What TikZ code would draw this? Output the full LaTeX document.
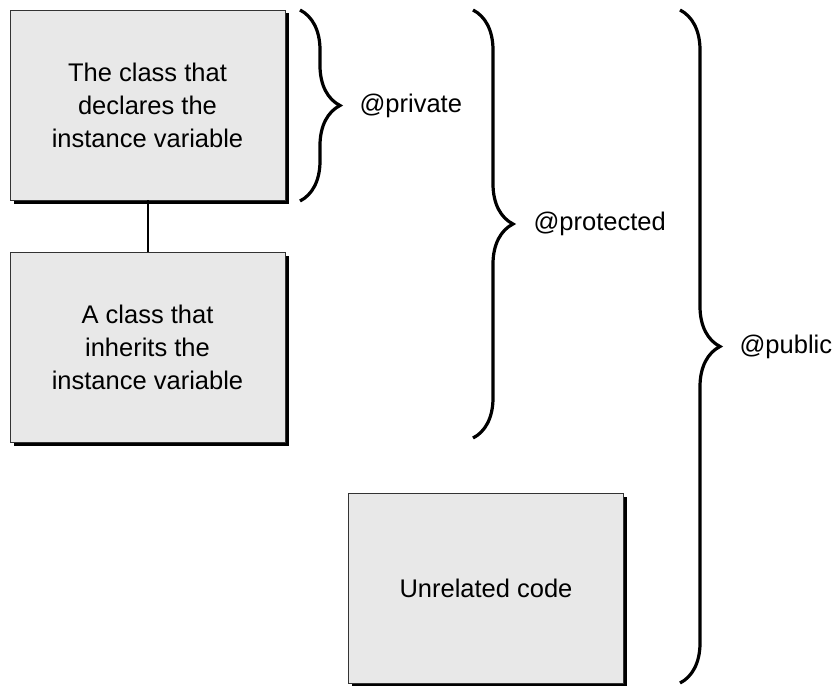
\documentclass[tikz,border=0pt]{standalone}
\usepackage{fontspec}
\setmainfont{Liberation Sans}
\usetikzlibrary{positioning,shadows,decorations.pathreplacing}

\begin{document}
\begin{tikzpicture}[x=1pt, y=-1pt,
    every node/.style={font=\fontsize{25.5}{33}\selectfont},
    classbox/.style={rectangle, draw=black!80, line width=0.9pt, fill=black!9,
        minimum width=275pt, minimum height=190pt, align=center, inner sep=0pt,
        drop shadow={shadow xshift=3.5pt, shadow yshift=-3.5pt, fill=black, opacity=1}},
    bracket/.style={decorate, decoration={brace, amplitude=40pt}, line width=3.2pt},
    scopelabel/.style={inner sep=0pt}]
        \useasboundingbox (0,0) rectangle (834,685);
        % the three boxes
        \node[classbox] (decl) at (147.5,105) {The class that\\declares the\\instance variable};
        \node[classbox] (inher) at (147.5,347) {A class that\\inherits the\\instance variable};
        \node[classbox] (unrel) at (486,588) {Unrelated code};
        \draw[line width=2pt] (decl.south) -- (inher.north);
        % braces for the scopes
        \coordinate (privtop) at (300,10);
        \coordinate (privbot) at (300,201);
        \coordinate (prottop) at (473,10);
        \coordinate (protbot) at (473,438);
        \coordinate (pubtop) at (680,10);
        \coordinate (pubbot) at (680,683);
        \draw[bracket] (privtop) -- node[scopelabel, right=58pt] (private) {@private} (privbot);
        \draw[bracket] (prottop) -- node[scopelabel, right=59pt] (protected) {@protected} (protbot);
        \draw[bracket] (pubtop) -- node[scopelabel, right=58pt] (public) {@public} (pubbot);
    \end{tikzpicture}
\end{document}
